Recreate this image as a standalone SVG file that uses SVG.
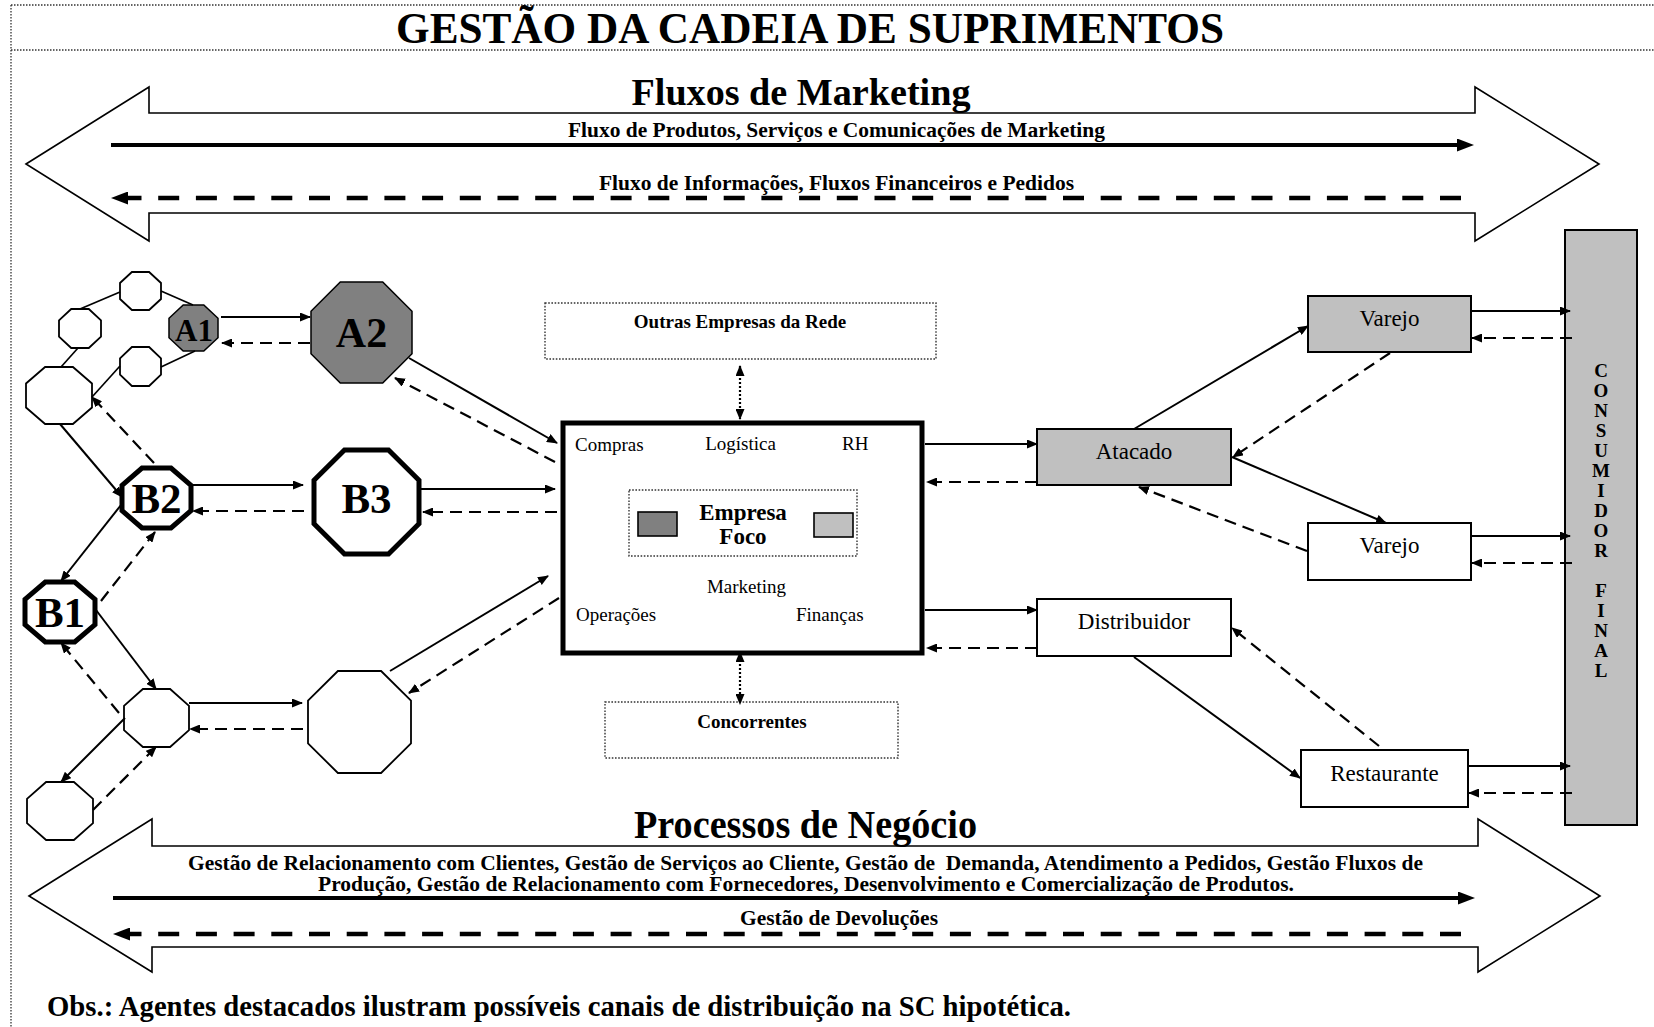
<svg xmlns="http://www.w3.org/2000/svg" width="1654" height="1027" viewBox="0 0 1654 1027">
<defs>
<style>
text{font-family:"Liberation Serif","Times New Roman",serif;fill:#000}
.b{font-weight:bold}
.frame{stroke:#333;stroke-width:1.3;stroke-dasharray:1.5 1.5;fill:none}
.bigarrow{fill:#fff;stroke:#000;stroke-width:1.6}
.oct{fill:#fff;stroke:#000;stroke-width:1.8}
.octb{fill:#fff;stroke:#000;stroke-width:5}
.octg{fill:#808080;stroke:#000;stroke-width:1.5}
.box{fill:#fff;stroke:#000;stroke-width:2}
.gbox{fill:#c0c0c0;stroke:#000;stroke-width:2}
.dotbox{fill:none;stroke:#333;stroke-width:1.4;stroke-dasharray:1.6 1.6}
.link{stroke:#000;stroke-width:1.7;fill:none}
.cs{stroke:#000;stroke-width:2;fill:none;marker-end:url(#ah)}
.cd{stroke:#000;stroke-width:2.2;fill:none;stroke-dasharray:12 7;marker-end:url(#ah)}
.cdot{stroke:#000;stroke-width:2.2;fill:none;stroke-dasharray:2 2;marker-end:url(#ah);marker-start:url(#ahs)}
.bs{stroke:#000;stroke-width:4;fill:none;marker-end:url(#ahb)}
.bd{stroke:#000;stroke-width:4.5;fill:none;stroke-dasharray:21 16.7;marker-end:url(#ahb)}
</style>
<marker id="ah" markerUnits="userSpaceOnUse" markerWidth="11" markerHeight="9" refX="10" refY="4.5" orient="auto"><path d="M0,0 L11,4.5 L0,9 z" fill="#000"/></marker>
<marker id="ahs" markerUnits="userSpaceOnUse" markerWidth="11" markerHeight="9" refX="10" refY="4.5" orient="auto-start-reverse"><path d="M0,0 L11,4.5 L0,9 z" fill="#000"/></marker>
<marker id="ahb" markerUnits="userSpaceOnUse" markerWidth="17" markerHeight="13" refX="9" refY="6.5" orient="auto"><path d="M0,0 L17,6.5 L0,13 z" fill="#000"/></marker>
</defs>
<rect x="0" y="0" width="1654" height="1027" fill="#fff"/>

<g id="frame">
<line class="frame" x1="11" y1="5" x2="1654" y2="5"/>
<line class="frame" x1="11" y1="50" x2="1654" y2="50"/>
<line class="frame" x1="11" y1="5" x2="11" y2="1027"/>
<text class="b" x="396" y="43" font-size="44" textLength="828" lengthAdjust="spacingAndGlyphs">GESTÃO DA CADEIA DE SUPRIMENTOS</text>
</g>

<g id="fluxos-marketing">
<polygon class="bigarrow" points="26,164 149,87 149,113 1475,113 1475,87 1599,164 1475,241 1475,213 149,213 149,241"/>
<text class="b" x="801" y="105" font-size="38" text-anchor="middle" textLength="339" lengthAdjust="spacingAndGlyphs">Fluxos de Marketing</text>
<text class="b" x="568" y="137" font-size="21" textLength="537" lengthAdjust="spacingAndGlyphs">Fluxo de Produtos, Serviços e Comunicações de Marketing</text>
<text class="b" x="599" y="190" font-size="21" textLength="475" lengthAdjust="spacingAndGlyphs">Fluxo de Informações, Fluxos Financeiros e Pedidos</text>
<line class="bs" x1="111" y1="145" x2="1466" y2="145"/>
<line class="bd" x1="1461" y1="198" x2="119" y2="198"/>
</g>

<g id="processos-negocio">
<polygon class="bigarrow" points="29,896 152,819 152,846 1478,846 1478,819 1600,896 1478,972 1478,947 152,947 152,972"/>
<text class="b" x="634" y="838" font-size="39" textLength="343" lengthAdjust="spacingAndGlyphs">Processos de Negócio</text>
<text class="b" x="188" y="870" font-size="21" textLength="1235" lengthAdjust="spacingAndGlyphs" xml:space="preserve" style="white-space:pre">Gestão de Relacionamento com Clientes, Gestão de Serviços ao Cliente, Gestão de  Demanda, Atendimento a Pedidos, Gestão Fluxos de</text>
<text class="b" x="318" y="891" font-size="21" textLength="976" lengthAdjust="spacingAndGlyphs">Produção, Gestão de Relacionamento com Fornecedores, Desenvolvimento e Comercialização de Produtos.</text>
<text class="b" x="740" y="925" font-size="21" textLength="198" lengthAdjust="spacingAndGlyphs">Gestão de Devoluções</text>
<line class="bs" x1="113" y1="898" x2="1467" y2="898"/>
<line class="bd" x1="1461" y1="934" x2="121" y2="934"/>
</g>

<text id="obs" class="b" x="47" y="1016" font-size="28.5" textLength="1024" lengthAdjust="spacingAndGlyphs">Obs.: Agentes destacados ilustram possíveis canais de distribuição na SC hipotética.</text>

<g id="node-s1"><polygon class="oct" points="131.9,272 149.1,272 161,283 161,299 149.1,310 131.9,310 120,299 120,283"/></g>
<g id="node-s2"><polygon class="oct" points="71.2,309 88.8,309 101,320.3 101,336.7 88.8,348 71.2,348 59,336.7 59,320.3"/></g>
<g id="node-s3"><polygon class="oct" points="131.9,347 149.1,347 161,358.3 161,374.7 149.1,386 131.9,386 120,374.7 120,358.3"/></g>
<g id="node-s4"><polygon class="oct" points="45.1,367 72.9,367 92,383.5 92,407.5 72.9,424 45.1,424 26,407.5 26,383.5"/></g>
<g id="node-A1"><polygon class="octg" points="183.2,305 203.8,305 218,318.3 218,337.7 203.8,351 183.2,351 169,337.7 169,318.3"/>
<text class="b" x="194" y="341" font-size="31" text-anchor="middle">A1</text></g>
<g id="node-A2"><polygon class="octg" points="340.3,282 382.7,282 412,311.3 412,353.7 382.7,383 340.3,383 311,353.7 311,311.3"/>
<text class="b" x="361.5" y="347" font-size="42" text-anchor="middle">A2</text></g>
<g id="node-B2"><polygon class="octb" points="142,468 171,468 191,485.4 191,510.6 171,528 142,528 122,510.6 122,485.4"/>
<text class="b" x="156.5" y="513" font-size="43" text-anchor="middle">B2</text></g>
<g id="node-B3"><polygon class="octb" points="344.5,450 388.5,450 419,480.2 419,523.8 388.5,554 344.5,554 314,523.8 314,480.2"/>
<text class="b" x="366.5" y="513" font-size="43" text-anchor="middle">B3</text></g>
<g id="node-B1"><polygon class="octb" points="45.3,582 74.7,582 95,599.4 95,624.6 74.7,642 45.3,642 25,624.6 25,599.4"/>
<text class="b" x="60" y="627" font-size="43" text-anchor="middle">B1</text></g>
<g id="node-c1"><polygon class="oct" points="142.9,689 170.1,689 189,705.8 189,730.2 170.1,747 142.9,747 124,730.2 124,705.8"/></g>
<g id="node-c2"><polygon class="oct" points="337.9,671 381.1,671 411,700.6 411,743.4 381.1,773 337.9,773 308,743.4 308,700.6"/></g>
<g id="node-c3"><polygon class="oct" points="46.1,782 73.9,782 93,798.8 93,823.2 73.9,840 46.1,840 27,823.2 27,798.8"/></g>

<g id="node-outras"><rect class="dotbox" x="545" y="303" width="391" height="56"/>
<text class="b" x="740" y="328" font-size="19" text-anchor="middle">Outras Empresas da Rede</text></g>
<g id="node-concorrentes"><rect class="dotbox" x="605" y="702" width="293" height="56"/>
<text class="b" x="752" y="728" font-size="19" text-anchor="middle">Concorrentes</text></g>

<g id="node-empresa">
<rect x="563" y="423" width="359" height="230" fill="#fff" stroke="#000" stroke-width="5"/>
<rect class="dotbox" x="629" y="490" width="228" height="66"/>
<rect x="638" y="512" width="39" height="24" fill="#808080" stroke="#000" stroke-width="1.6"/>
<rect x="814" y="513" width="39" height="24" fill="#c0c0c0" stroke="#000" stroke-width="1.6"/>
<text class="b" x="743" y="520" font-size="23" text-anchor="middle">Empresa</text>
<text class="b" x="743" y="544" font-size="23" text-anchor="middle">Foco</text>
<text x="575" y="451" font-size="19">Compras</text>
<text x="740.5" y="450" font-size="19" text-anchor="middle">Logística</text>
<text x="842" y="450" font-size="19">RH</text>
<text x="746.5" y="593" font-size="19" text-anchor="middle">Marketing</text>
<text x="576" y="621" font-size="19">Operações</text>
<text x="796" y="621" font-size="19">Finanças</text>
</g>

<g id="node-atacado"><rect class="gbox" x="1037" y="429" width="194" height="56"/>
<text x="1134" y="459" font-size="23" text-anchor="middle">Atacado</text></g>
<g id="node-varejo1"><rect class="gbox" x="1308" y="296" width="163" height="56"/>
<text x="1389.5" y="326" font-size="23" text-anchor="middle">Varejo</text></g>
<g id="node-varejo2"><rect class="box" x="1308" y="523" width="163" height="57"/>
<text x="1389.5" y="553" font-size="23" text-anchor="middle">Varejo</text></g>
<g id="node-distribuidor"><rect class="box" x="1037" y="599" width="194" height="57"/>
<text x="1134" y="629" font-size="23" text-anchor="middle">Distribuidor</text></g>
<g id="node-restaurante"><rect class="box" x="1301" y="750" width="167" height="57"/>
<text x="1384.5" y="781" font-size="23" text-anchor="middle">Restaurante</text></g>
<g id="node-consumidor"><rect class="gbox" x="1565" y="230" width="72" height="595"/>
<text class="b" font-size="19" text-anchor="middle"><tspan x="1601" y="377">C</tspan><tspan x="1601" y="397">O</tspan><tspan x="1601" y="417">N</tspan><tspan x="1601" y="437">S</tspan><tspan x="1601" y="457">U</tspan><tspan x="1601" y="477">M</tspan><tspan x="1601" y="497">I</tspan><tspan x="1601" y="517">D</tspan><tspan x="1601" y="537">O</tspan><tspan x="1601" y="557">R</tspan><tspan x="1601" y="597">F</tspan><tspan x="1601" y="617">I</tspan><tspan x="1601" y="637">N</tspan><tspan x="1601" y="657">A</tspan><tspan x="1601" y="677">L</tspan></text></g>

<g id="connectors">
<line class="link" x1="80" y1="309" x2="120" y2="292"/>
<line class="link" x1="161" y1="291" x2="193" y2="305"/>
<line class="link" x1="78" y1="348" x2="61" y2="367"/>
<line class="link" x1="120" y1="366" x2="92" y2="397"/>
<line class="link" x1="161" y1="367" x2="195" y2="351"/>

<line class="cs" x1="221" y1="317" x2="310" y2="317"/>
<line class="cd" x1="310" y1="343" x2="222" y2="343"/>
<line class="cs" x1="409" y1="358" x2="557" y2="443"/>
<line class="cd" x1="555" y1="462" x2="395" y2="378"/>
<line class="cs" x1="60" y1="424" x2="122" y2="497"/>
<line class="cd" x1="154" y1="463" x2="92" y2="397"/>
<line class="cs" x1="192" y1="485" x2="303" y2="485"/>
<line class="cd" x1="304" y1="511" x2="193" y2="511"/>
<line class="cs" x1="421" y1="489" x2="555" y2="489"/>
<line class="cd" x1="557" y1="512" x2="423" y2="512"/>
<line class="cs" x1="121" y1="505" x2="61" y2="581"/>
<line class="cd" x1="101" y1="601" x2="155" y2="532"/>
<line class="cs" x1="96" y1="610" x2="156" y2="689"/>
<line class="cd" x1="119" y1="713" x2="61" y2="643"/>
<line class="cs" x1="125" y1="718" x2="61" y2="782"/>
<line class="cd" x1="93" y1="810" x2="156" y2="747"/>
<line class="cs" x1="189" y1="703" x2="302" y2="703"/>
<line class="cd" x1="303" y1="729" x2="190" y2="729"/>
<line class="cs" x1="390" y1="671" x2="548" y2="576"/>
<line class="cd" x1="559" y1="598" x2="409" y2="693"/>

<line class="cdot" x1="740" y1="366" x2="740" y2="419"/>
<line class="cdot" x1="740" y1="652" x2="740" y2="704"/>

<line class="cs" x1="925" y1="444" x2="1037" y2="444"/>
<line class="cd" x1="1037" y1="482" x2="927" y2="482"/>
<line class="cs" x1="925" y1="610" x2="1037" y2="610"/>
<line class="cd" x1="1037" y1="648" x2="927" y2="648"/>

<line class="cs" x1="1134" y1="429" x2="1308" y2="326"/>
<line class="cd" x1="1390" y1="353" x2="1233" y2="457"/>
<line class="cs" x1="1232" y1="457" x2="1386" y2="523"/>
<line class="cd" x1="1307" y1="551" x2="1139" y2="487"/>
<line class="cs" x1="1134" y1="657" x2="1300" y2="778"/>
<line class="cd" x1="1379" y1="746" x2="1232" y2="628"/>

<line class="cs" x1="1471" y1="311" x2="1570" y2="311"/>
<line class="cd" x1="1572" y1="338" x2="1472" y2="338"/>
<line class="cs" x1="1471" y1="536" x2="1570" y2="536"/>
<line class="cd" x1="1572" y1="563" x2="1472" y2="563"/>
<line class="cs" x1="1468" y1="766" x2="1570" y2="766"/>
<line class="cd" x1="1572" y1="793" x2="1469" y2="793"/>
</g>
</svg>
